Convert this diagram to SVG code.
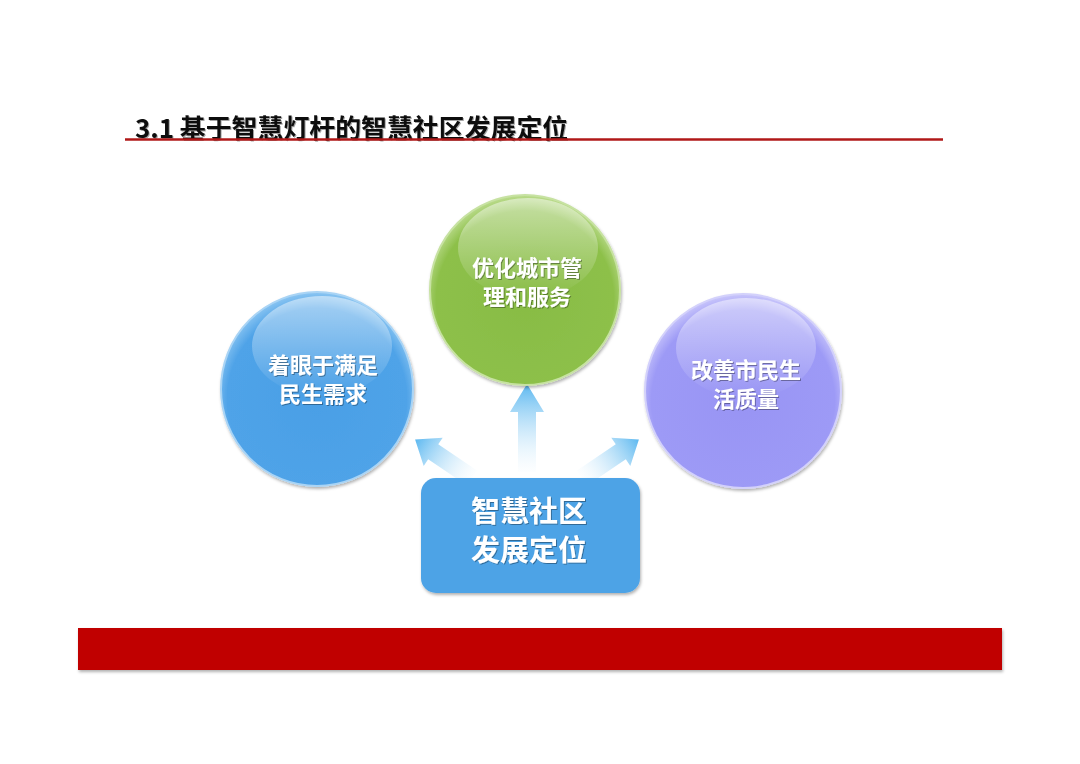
<svg xmlns="http://www.w3.org/2000/svg" width="1080" height="764" viewBox="0 0 1080 764">
<style>
.t{font-family:"Noto Sans CJK SC","Liberation Sans",sans-serif;font-weight:bold;fill:#fff;text-anchor:middle}
.c{font-size:22px}
.b{font-size:29px}
</style>
<defs>
<radialGradient id="gBlue" cx="0.5" cy="0.55" r="0.55">
<stop offset="0" stop-color="#4a9fe6"/><stop offset="0.85" stop-color="#4fa3e8"/><stop offset="1" stop-color="#8cc6f2"/>
</radialGradient>
<radialGradient id="gGreen" cx="0.5" cy="0.55" r="0.55">
<stop offset="0" stop-color="#88bc44"/><stop offset="0.85" stop-color="#8dc04a"/><stop offset="1" stop-color="#bcdc8e"/>
</radialGradient>
<radialGradient id="gPurple" cx="0.5" cy="0.55" r="0.55">
<stop offset="0" stop-color="#9894f4"/><stop offset="0.85" stop-color="#9d9af6"/><stop offset="1" stop-color="#c9c6fb"/>
</radialGradient>
<linearGradient id="hl" x1="0" y1="0" x2="0" y2="1">
<stop offset="0" stop-color="#fff" stop-opacity="0.5"/><stop offset="1" stop-color="#fff" stop-opacity="0"/>
</linearGradient>
<linearGradient id="arr" x1="0" y1="1" x2="0" y2="0">
<stop offset="0" stop-color="#d6edfb" stop-opacity="0.05"/><stop offset="1" stop-color="#5cb8f0"/>
</linearGradient>
<filter id="sh" x="-20%" y="-20%" width="140%" height="140%">
<feDropShadow dx="1" dy="2" stdDeviation="1.5" flood-color="#000" flood-opacity="0.3"/>
</filter>
<filter id="ts" x="-10%" y="-20%" width="120%" height="150%">
<feDropShadow dx="1" dy="1" stdDeviation="0.6" flood-color="#000" flood-opacity="0.35"/>
</filter>
<path id="arrow" d="M-9,0 L-9,-60 L-17,-60 L0,-88 L17,-60 L9,-60 L9,0 Z" fill="url(#arr)"/>
</defs>
<rect width="1080" height="764" fill="#fff"/>
<g id="title">
<text x="135" y="138" font-family="'Noto Sans CJK SC','Liberation Sans',sans-serif" font-weight="bold" font-size="25.9" fill="#111" filter="url(#ts)">3.1 基于智慧灯杆的智慧社区发展定位</text>
<line x1="125" y1="139.5" x2="943" y2="139.5" stroke="#b01818" stroke-width="2.5"/>
</g>
<g id="connectors">
<use href="#arrow" transform="translate(527,472)"/>
<use href="#arrow" transform="translate(472,478) rotate(-56) scale(1,0.78)"/>
<use href="#arrow" transform="translate(582,478) rotate(56) scale(1,0.78)"/>
</g>
<g id="node-left">
<ellipse cx="317" cy="389" rx="96" ry="97" fill="url(#gBlue)" stroke="#a9d4f5" stroke-width="2" filter="url(#sh)"/>
<ellipse cx="322" cy="346" rx="70" ry="50" fill="url(#hl)"/>
<text class="t c" x="323" y="373" filter="url(#ts)">着眼于满足</text>
<text class="t c" x="323" y="402" filter="url(#ts)">民生需求</text>
</g>
<g id="node-top">
<ellipse cx="525" cy="290" rx="95" ry="95" fill="url(#gGreen)" stroke="#c7e2a2" stroke-width="2" filter="url(#sh)"/>
<ellipse cx="528" cy="248" rx="70" ry="50" fill="url(#hl)"/>
<text class="t c" x="527" y="276" filter="url(#ts)">优化城市管</text>
<text class="t c" x="527" y="305" filter="url(#ts)">理和服务</text>
</g>
<g id="node-right">
<ellipse cx="743" cy="391" rx="98" ry="97" fill="url(#gPurple)" stroke="#d3d1fb" stroke-width="2" filter="url(#sh)"/>
<ellipse cx="746" cy="348" rx="70" ry="50" fill="url(#hl)"/>
<text class="t c" x="746" y="378" filter="url(#ts)">改善市民生</text>
<text class="t c" x="746" y="407" filter="url(#ts)">活质量</text>
</g>
<g id="node-center">
<rect x="421" y="478" width="219" height="115" rx="15" fill="#4da3e6" filter="url(#sh)"/>
<text class="t b" x="529" y="522" filter="url(#ts)">智慧社区</text>
<text class="t b" x="529" y="561" filter="url(#ts)">发展定位</text>
</g>
<g id="footer-bar">
<rect x="78" y="628" width="924" height="42" fill="#c00000" filter="url(#sh)"/>
</g>
</svg>
